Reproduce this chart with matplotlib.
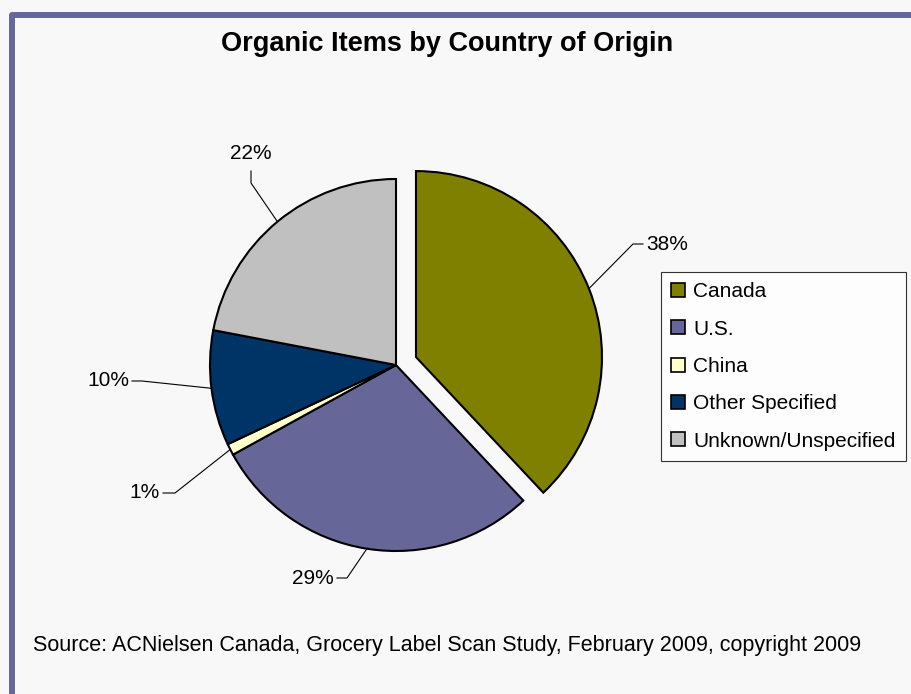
import numpy as np
import matplotlib.pyplot as plt
from matplotlib.lines import Line2D

# data
countries = ["Canada", "U.S.", "China", "Other Specified", "Unknown/Unspecified"]
shares = [38, 29, 1, 10, 22]

# styling
colors = ["#808000", "#666699", "#FFFFCC", "#003366", "#C0C0C0"]
W, H = 912, 694
plt.rcParams["font.family"] = ["Liberation Sans", "DejaVu Sans"]

fig = plt.figure(figsize=(W / 100, H / 100), dpi=100, facecolor="#f8f8f8")
ax = fig.add_axes([0, 0, 1, 1])
ax.set_facecolor("#f8f8f8")

# pie, drawn in pixel units (y measured from the bottom)
center = (396, H - 365)
radius = 186
explode = [21.5, 0, 0, 0, 0]
wedges, _ = ax.pie(shares, colors=colors, startangle=90, counterclock=False,
                   explode=explode, radius=radius, center=center,
                   wedgeprops=dict(edgecolor="black", linewidth=1.5))

ax.set_xlim(0, W)
ax.set_ylim(0, H)
ax.set_aspect("equal")
ax.axis("off")

# leader lines: (elbow, end of line, text anchor, ha) in image coords
leaders = [
    ((633, 244), (643, 244), (646, 244), "left"),
    ((347, 578), (337, 578), (334, 578), "right"),
    ((175, 493), (163, 493), (160, 493), "right"),
    ((142, 381), (132, 381), (129, 381), "right"),
    ((251, 183), (251, 171), (251, 153), "center"),
]
for w, v, (elb, end, txt, ha) in zip(wedges, shares, leaders):
    tm = np.deg2rad((w.theta1 + w.theta2) / 2)
    cx, cy = w.center
    ex, ey = cx + w.r * np.cos(tm), cy + w.r * np.sin(tm)
    ax.add_line(Line2D([ex, elb[0], end[0]], [ey, H - elb[1], H - end[1]],
                       color="black", linewidth=0.8))
    ax.text(txt[0], H - txt[1], f"{v}%", ha=ha, va="center", fontsize=15)

# legend
leg = ax.legend(wedges, countries, loc="upper left",
                bbox_to_anchor=(661 / W, 1 - 272 / H), bbox_transform=fig.transFigure,
                fontsize=15, frameon=True, fancybox=False, borderpad=0.5,
                handlelength=0.65, handleheight=0.65, handletextpad=0.4,
                labelspacing=0.88, borderaxespad=0)
leg.get_frame().set_edgecolor("black")
leg.get_frame().set_linewidth(0.8)
leg.get_frame().set_facecolor("white")
for h in leg.legend_handles:
    h.set_linewidth(1.2)

# title and source
ax.text(447, H - 44, "Organic Items by Country of Origin", ha="center", va="center",
        fontsize=19.5, fontweight="bold")
ax.text(33, H - 645, "Source: ACNielsen Canada, Grocery Label Scan Study, February 2009, copyright 2009",
        ha="left", va="center", fontsize=15.5)

# purple frame on the left and top
ax.add_line(Line2D([12, 12, W], [0, H - 15, H - 15], color="#666699", linewidth=4.3,
                   solid_joinstyle="round", solid_capstyle="butt"))

fig.savefig("out.png", dpi=100, facecolor=fig.get_facecolor())
